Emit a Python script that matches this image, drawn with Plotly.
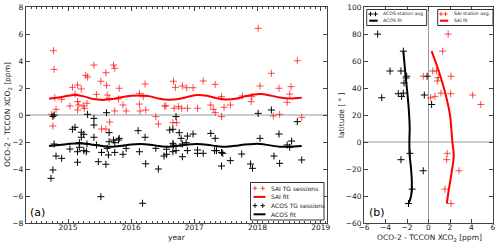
import plotly.graph_objects as go

# ---------------- Panel (a) data ----------------
sai_t = [2014.77, 2014.78, 2014.79, 2014.81, 2014.74, 2014.76, 2014.90, 2015.03, 2015.07, 2015.11,
         2015.15, 2015.15, 2015.15, 2015.17, 2015.21, 2015.24, 2015.26, 2015.28, 2015.31, 2015.30,
         2015.41, 2015.45, 2015.52, 2015.53, 2015.60, 2015.60, 2015.61, 2015.62, 2015.65, 2015.66,
         2015.72, 2015.74, 2015.74, 2015.81, 2015.80, 2015.87, 2015.92, 2016.13, 2016.13, 2016.14,
         2016.19, 2016.22, 2016.23, 2016.39, 2016.43, 2016.53, 2016.55, 2016.67, 2016.70, 2016.68,
         2016.66, 2016.72, 2016.75, 2016.80, 2016.81, 2016.88, 2016.89, 2016.98, 2017.05, 2017.14,
         2017.26, 2017.30, 2017.33, 2017.33, 2017.43, 2017.43, 2017.47, 2017.57, 2017.76, 2017.90,
         2017.91, 2018.01, 2018.04, 2018.22, 2018.25, 2018.34, 2018.35, 2018.47, 2018.51, 2018.53,
         2018.63, 2018.70]
sai_d = [4.76, 3.38, 1.28, 0.42, 0.05, -0.81, 1.16, 0.67, 2.05, 1.55,
         2.22, 0.99, 0.37, 0.74, 1.93, 0.67, 0.50, 2.94, 2.81, 0.87,
         3.70, 1.53, 2.50, -1.04, -1.04, 3.13, 2.20, 1.48, 1.23, -0.52,
         3.70, 3.46, 0.30, 1.98, 1.19, 0.74, 0.30, 1.61, 0.81, 0.30,
         1.36, 2.30, 0.37, -0.12, -0.67, 0.67, 0.67, 2.50, 2.05, 0.50,
         -0.57, -0.57, 0.62, 0.50, 2.15, 2.02, 0.50, 2.02, 0.50, 2.52,
         0.74, 0.42, 2.27, 0.17, 1.36, -0.12, 0.57, 0.74, 1.41, 0.99,
         1.36, 6.42, 2.15, 3.09, -0.07, 1.98, 0.05, 0.94, 1.55, 2.10,
         4.02, -0.17]

acos_t = [2014.76, 2014.78, 2015.31, 2015.41, 2015.61, 2015.41, 2016.71,
          2014.73, 2014.76, 2014.78, 2014.81, 2014.90, 2015.03, 2015.07, 2015.11, 2015.15, 2015.15,
          2015.18, 2015.18, 2015.21, 2015.21, 2015.25, 2015.25, 2015.30, 2015.29, 2015.41, 2015.45,
          2015.48, 2015.52, 2015.53, 2015.60, 2015.62, 2015.64, 2015.65, 2015.65, 2015.72, 2015.74,
          2015.74, 2015.80, 2015.81, 2015.87, 2015.92, 2016.11, 2016.13, 2016.18, 2016.22, 2016.23,
          2016.39, 2016.43, 2016.52, 2016.56, 2016.56, 2016.61, 2016.66, 2016.66, 2016.66, 2016.67,
          2016.71, 2016.76, 2016.79, 2016.81, 2016.81, 2016.87, 2016.89, 2016.89, 2016.98, 2017.05,
          2017.05, 2017.14, 2017.26, 2017.33, 2017.32, 2017.35, 2017.43, 2017.45, 2017.43, 2017.57,
          2017.75, 2017.89, 2017.92, 2018.01, 2018.04, 2018.22, 2018.26, 2018.34, 2018.35, 2018.47,
          2018.51, 2018.54, 2018.63, 2018.70]
acos_d = [-0.10, 0.00, 0.05, -0.25, 0.17, -0.74, -0.12,
          -4.69, -4.07, -2.15, -3.04, -3.21, -2.52, -1.06, -0.91, -2.72, -3.50,
          -2.05, -2.39, -1.28, -1.65, -1.43, -2.64, -2.15, -2.72, -1.65, -2.22,
          -3.46, -6.05, -2.77, -3.65, -2.47, -2.96, -1.31, -1.98, -1.85, -2.77,
          -2.05, -1.85, -1.73, -2.91, -2.47, -1.16, -2.72, -6.54, -1.65, -3.61,
          -2.47, -4.00, -3.04, -2.91, -2.54, -1.11, -1.06, -2.10, -2.72, -2.22,
          -2.64, -1.31, -1.73, -3.09, -2.15, -2.05, -2.64, -1.56, -1.41, -2.59,
          -2.84, -2.84, -1.36, -1.73, -2.64, -2.64, -2.77, -2.84, -3.78, -3.38,
          -2.89, -3.63, -3.95, 0.12, -1.73, 0.37, -3.04, -1.41, -3.58, -2.22,
          -2.39, -1.93, -0.49, -3.33]

fit_t = [2014.70, 2014.85, 2015.00, 2015.10, 2015.25, 2015.40, 2015.55, 2015.70, 2015.85, 2016.00,
         2016.15, 2016.30, 2016.45, 2016.60, 2016.75, 2016.90, 2017.05, 2017.20, 2017.35, 2017.50,
         2017.65, 2017.80, 2017.95, 2018.05, 2018.20, 2018.35, 2018.50, 2018.70]
sai_fit = [1.20, 1.30, 1.42, 1.48, 1.38, 1.18, 1.12, 1.18, 1.32, 1.42,
           1.45, 1.38, 1.20, 1.13, 1.18, 1.35, 1.48, 1.42, 1.25, 1.15,
           1.20, 1.38, 1.52, 1.55, 1.45, 1.30, 1.22, 1.28]
acos_fit = [-2.30, -2.22, -2.15, -2.11, -2.12, -2.20, -2.30, -2.35, -2.28, -2.18,
            -2.15, -2.20, -2.30, -2.35, -2.28, -2.18, -2.15, -2.20, -2.30, -2.35,
            -2.28, -2.18, -2.14, -2.15, -2.25, -2.35, -2.35, -2.30]

# ---------------- Panel (b) data ----------------
acos_st_x = [-4.73, -4.35, -3.58, -2.81, -2.56, -2.50, -2.34, -2.28, -2.09, -2.03, -2.34,
             -0.39, -0.13, 0.29, -1.72, -2.56, -0.49, -1.52, -1.86]
acos_st_lat = [79.9, 32.8, 52.6, 35.8, 52.6, 33.8, 36.2, 43.7, 47.4, 48.7, 67.3,
               34.8, 48.7, 27.8, -8.4, -13.1, -21.3, -34.9, -45.6]
sai_st_x = [1.83, 1.31, -0.49, 0.39, 0.76, 0.82, 0.91, 2.09, 1.16, 2.06, 0.60, 0.20,
            4.11, 4.86, 1.74, 1.69, 2.84, 1.53, 2.09]
sai_st_lat = [79.9, 67.3, 48.7, 52.6, 52.6, 45.2, 47.7, 48.7, 36.2, 35.8, 33.8, 32.8,
              34.8, 27.8, -8.4, -13.1, -21.3, -34.9, -45.6]

fit_lat = [67.3, 55, 45, 35, 20, 10, 0, -10, -20, -30, -40, -45.6]
acos_lat_fit = [-2.34, -2.20, -2.08, -1.95, -1.80, -1.75, -1.78, -1.75, -1.62, -1.55, -1.62, -1.86]
sai_lat_fit = [0.29, 0.85, 1.25, 1.60, 2.00, 2.12, 2.22, 2.35, 2.20, 2.00, 1.80, 1.71]

legend_a = ["SAI TG sessions", "SAI fit", "ACOS TG sessions", "ACOS fit"]
legend_b_acos = ["ACOS station avg.", "ACOS fit"]
legend_b_sai = ["SAI station avg.", "SAI fit"]

RED = "rgba(255,0,0,0.7)"
FONT = "DejaVu Sans"
AX = "#444444"
W, H = 500.0, 246.0


def px(x):
    return x / W


def py(y):
    return 1 - y / H


fig = go.Figure()
mk_red = dict(symbol="cross-thin", size=5, line=dict(width=1, color=RED), color=RED)
mk_blk = dict(symbol="cross-thin", size=5, line=dict(width=1, color="black"), color="black")

fig.add_trace(go.Scatter(x=sai_t, y=sai_d, mode="markers", marker=mk_red, xaxis="x", yaxis="y"))
fig.add_trace(go.Scatter(x=fit_t, y=sai_fit, mode="lines", line_shape="spline",
                         line=dict(color="red", width=2), xaxis="x", yaxis="y"))
fig.add_trace(go.Scatter(x=acos_t, y=acos_d, mode="markers", marker=mk_blk, xaxis="x", yaxis="y"))
fig.add_trace(go.Scatter(x=fit_t, y=acos_fit, mode="lines", line_shape="spline",
                         line=dict(color="black", width=2), xaxis="x", yaxis="y"))

fig.add_trace(go.Scatter(x=acos_st_x, y=acos_st_lat, mode="markers", marker=mk_blk, xaxis="x2", yaxis="y2"))
fig.add_trace(go.Scatter(x=acos_lat_fit, y=fit_lat, mode="lines", line_shape="spline",
                         line=dict(color="black", width=2), xaxis="x2", yaxis="y2"))
fig.add_trace(go.Scatter(x=sai_st_x, y=sai_st_lat, mode="markers", marker=mk_red, xaxis="x2", yaxis="y2"))
fig.add_trace(go.Scatter(x=sai_lat_fit, y=fit_lat, mode="lines", line_shape="spline",
                         line=dict(color="red", width=2), xaxis="x2", yaxis="y2"))

yd = [(H - 223) / H, (H - 7) / H]
TF = dict(family=FONT, size=7.5, color="#222222")
common = dict(showgrid=False, zeroline=False, ticks="inside", mirror="ticks", showline=True,
              linecolor=AX, linewidth=1, tickcolor=AX, ticklen=4, automargin=False,
              tickfont=TF)

shapes = [
    dict(type="line", xref="x domain", yref="y", x0=0, x1=1, y0=0, y1=0,
         line=dict(color="#999999", width=1), layer="below"),
    dict(type="line", xref="x2 domain", yref="y2", x0=0, x1=1, y0=0, y1=0,
         line=dict(color="#999999", width=1), layer="below"),
    dict(type="line", xref="x2", yref="y2 domain", x0=0, x1=0, y0=0, y1=1,
         line=dict(color="#999999", width=1), layer="below"),
]
annotations = []


def add_legend(box, rows, marker_x, line_x, text_x, fsize):
    x0, y0, x1, y1 = box
    shapes.append(dict(type="rect", xref="paper", yref="paper", x0=px(x0), x1=px(x1), y0=py(y1), y1=py(y0),
                       line=dict(color="#333333", width=1), fillcolor="white", layer="above"))
    for kind, color, label, yc in rows:
        if kind == "m":
            for mx in marker_x:
                shapes.append(dict(type="line", xref="paper", yref="paper", x0=px(mx - 2.2), x1=px(mx + 2.2),
                                   y0=py(yc), y1=py(yc), line=dict(color=color, width=1), layer="above"))
                shapes.append(dict(type="line", xref="paper", yref="paper", x0=px(mx), x1=px(mx),
                                   y0=py(yc - 2.2), y1=py(yc + 2.2), line=dict(color=color, width=1), layer="above"))
        else:
            shapes.append(dict(type="line", xref="paper", yref="paper", x0=px(line_x[0]), x1=px(line_x[1]),
                               y0=py(yc), y1=py(yc), line=dict(color=color, width=2), layer="above"))
        annotations.append(dict(text=label, xref="paper", yref="paper", x=px(text_x), y=py(yc),
                                xanchor="left", yanchor="middle", showarrow=False,
                                font=dict(family=FONT, size=fsize, color="#222222")))


add_legend((250.5, 182.5, 324, 220),
           [("m", RED, legend_a[0], 188.3), ("l", "red", legend_a[1], 196.9),
            ("m", "black", legend_a[2], 205.6), ("l", "black", legend_a[3], 214.3)],
           [255, 262.7], [253.5, 265.5], 268.5, 6)
add_legend((366.7, 9.5, 426.7, 25.5),
           [("m", "black", legend_b_acos[0], 14), ("l", "black", legend_b_acos[1], 20.7)],
           [370.5, 375.5], [369.3, 377.7], 381, 4.6)
add_legend((437.7, 9.5, 493, 25.5),
           [("m", RED, legend_b_sai[0], 14), ("l", "red", legend_b_sai[1], 20.7)],
           [441, 445.5], [440, 448.3], 452, 4.6)

XT = "OCO-2 - TCCON XCO<sub>2</sub> [ppm]"
TT = dict(family=FONT, size=7.5, color="#222222")
annotations += [
    dict(text="year", xref="paper", yref="paper", x=px(177), y=py(237.5), xanchor="center", yanchor="middle",
         showarrow=False, font=TT),
    dict(text=XT, xref="paper", yref="paper", x=px(429), y=py(237.5), xanchor="center", yanchor="middle",
         showarrow=False, font=TT),
    dict(text=XT, xref="paper", yref="paper", x=px(8), y=py(115), xanchor="center", yanchor="middle",
         showarrow=False, font=TT, textangle=-90),
    dict(text="latitude [ ° ]", xref="paper", yref="paper", x=px(341), y=py(115), xanchor="center",
         yanchor="middle", showarrow=False, font=TT, textangle=-90),
    dict(text="(a)", xref="paper", yref="paper", x=px(28), y=py(212.7), xanchor="left", yanchor="middle",
         showarrow=False, font=dict(family=FONT, size=11, color="black")),
    dict(text="(b)", xref="paper", yref="paper", x=px(366.5), y=py(212.7), xanchor="left", yanchor="middle",
         showarrow=False, font=dict(family=FONT, size=11, color="black")),
]

fig.update_layout(
    width=500, height=246, margin=dict(l=0, r=0, t=0, b=0), showlegend=False,
    paper_bgcolor="white", plot_bgcolor="white",
    font=dict(family=FONT, size=7.5, color="#222222"),
    xaxis=dict(common, domain=[25.7 / W, 327 / W], range=[2014.33, 2019.1], dtick=1, tick0=2015,
               ticklabelstandoff=-3,
               minor=dict(dtick=1 / 12, tick0=2015, ticks="inside", ticklen=2, tickcolor=AX)),
    yaxis=dict(common, domain=yd, range=[-8, 8], dtick=2),
    xaxis2=dict(common, domain=[364 / W, 493 / W], range=[-6, 6], dtick=2, anchor="y2",
                ticklabelstandoff=-3),
    yaxis2=dict(common, domain=yd, range=[-60, 100], dtick=20, anchor="x2"),
    shapes=shapes,
    annotations=annotations,
)

fig.write_html("out.html", config={"displayModeBar": False, "staticPlot": True},
               post_script="document.body.style.margin='0';document.body.style.overflow='hidden';")
